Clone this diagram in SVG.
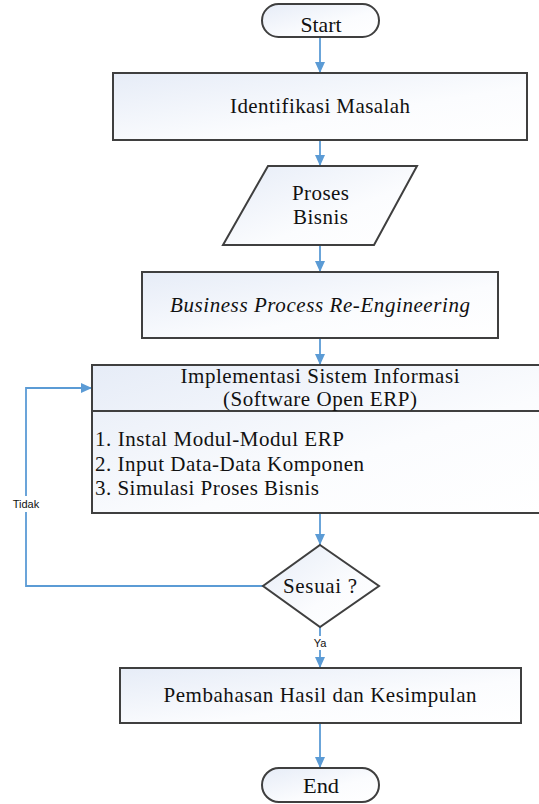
<svg xmlns="http://www.w3.org/2000/svg" width="539" height="804" viewBox="0 0 539 804">
<defs>
<linearGradient id="g" x1="0" y1="0" x2="1" y2="1">
<stop offset="0" stop-color="#E6ECF7"/>
<stop offset="0.6" stop-color="#FBFCFE"/>
<stop offset="1" stop-color="#FFFFFF"/>
</linearGradient>
<marker id="ah" markerUnits="userSpaceOnUse" markerWidth="12" markerHeight="12" viewBox="0 0 12 12" refX="11" refY="6" orient="auto">
<path d="M0,1 L11,6 L0,11 Z" fill="#5B9BD5"/>
</marker>
<style>
.n{fill:url(#g);stroke:#3F3F3F;stroke-width:2}
.t{font-family:"Liberation Serif","Times New Roman",serif;font-size:21px;fill:#111;text-anchor:middle}
.l{font-family:"Liberation Serif","Times New Roman",serif;font-size:21px;fill:#111}
.c{fill:none;stroke:#5B9BD5;stroke-width:1.8;marker-end:url(#ah)}
.s{font-family:"Liberation Sans",Arial,sans-serif;font-size:11px;fill:#111;text-anchor:middle}
</style>
</defs>
<rect width="539" height="804" fill="#FFFFFF"/>
<g id="connectors">
<path class="c" d="M320,37 L320,73"/>
<path class="c" d="M320,140 L320,166"/>
<path class="c" d="M320,245 L320,272"/>
<path class="c" d="M320,338 L320,365"/>
<path class="c" d="M320,514 L320,545"/>
<path class="c" d="M263,586 L26,586 L26,388 L92,388"/>
<path class="c" d="M320,627 L320,668"/>
<path class="c" d="M320,723 L320,768"/>
<rect x="8" y="496" width="37" height="16" fill="#FFFFFF"/>
<text class="s" x="26" y="508">Tidak</text>
<rect x="312" y="636" width="16" height="14" fill="#FFFFFF"/>
<text class="s" x="320" y="647">Ya</text>
</g>
<g id="start">
<rect class="n" x="262" y="4" width="117" height="33" rx="16.5"/>
<text class="t" x="321" y="32" font-size="20" textLength="41" lengthAdjust="spacingAndGlyphs">Start</text>
</g>
<g id="identifikasi">
<rect class="n" x="113" y="73" width="414" height="67"/>
<text class="t" x="320" y="113" textLength="180" lengthAdjust="spacing">Identifikasi Masalah</text>
</g>
<g id="proses">
<polygon class="n" points="268,166 417,166 374,245 223,245"/>
<text class="t" x="320.5" y="200" textLength="57" lengthAdjust="spacing">Proses</text>
<text class="t" x="320.5" y="224" textLength="55" lengthAdjust="spacing">Bisnis</text>
</g>
<g id="bpr">
<rect class="n" x="142" y="272" width="356" height="66"/>
<text class="t" x="320" y="312" font-style="italic" textLength="300" lengthAdjust="spacing">Business Process Re-Engineering</text>
</g>
<g id="implementasi">
<rect class="n" x="92" y="365" width="456" height="148"/>
<line x1="92" y1="411" x2="548" y2="411" stroke="#3F3F3F" stroke-width="2"/>
<text class="t" x="320" y="383" textLength="279" lengthAdjust="spacing">Implementasi Sistem Informasi</text>
<text class="t" x="320" y="406" textLength="194" lengthAdjust="spacing">(Software Open ERP)</text>
<text class="l" x="95" y="446" textLength="249" lengthAdjust="spacing">1. Instal Modul-Modul ERP</text>
<text class="l" x="95" y="471" textLength="269" lengthAdjust="spacing">2. Input Data-Data Komponen</text>
<text class="l" x="95" y="495" textLength="224" lengthAdjust="spacing">3. Simulasi Proses Bisnis</text>
</g>
<g id="sesuai">
<polygon class="n" points="320,545 379,586 320,627 263,586"/>
<text class="t" x="320" y="593" textLength="74" lengthAdjust="spacing">Sesuai ?</text>
</g>
<g id="pembahasan">
<rect class="n" x="120" y="668" width="401" height="55"/>
<text class="t" x="320" y="702" textLength="313" lengthAdjust="spacing">Pembahasan Hasil dan Kesimpulan</text>
</g>
<g id="end">
<rect class="n" x="262" y="768" width="117" height="34" rx="17"/>
<text class="t" x="321" y="793" font-size="20" textLength="36" lengthAdjust="spacingAndGlyphs">End</text>
</g>
</svg>
